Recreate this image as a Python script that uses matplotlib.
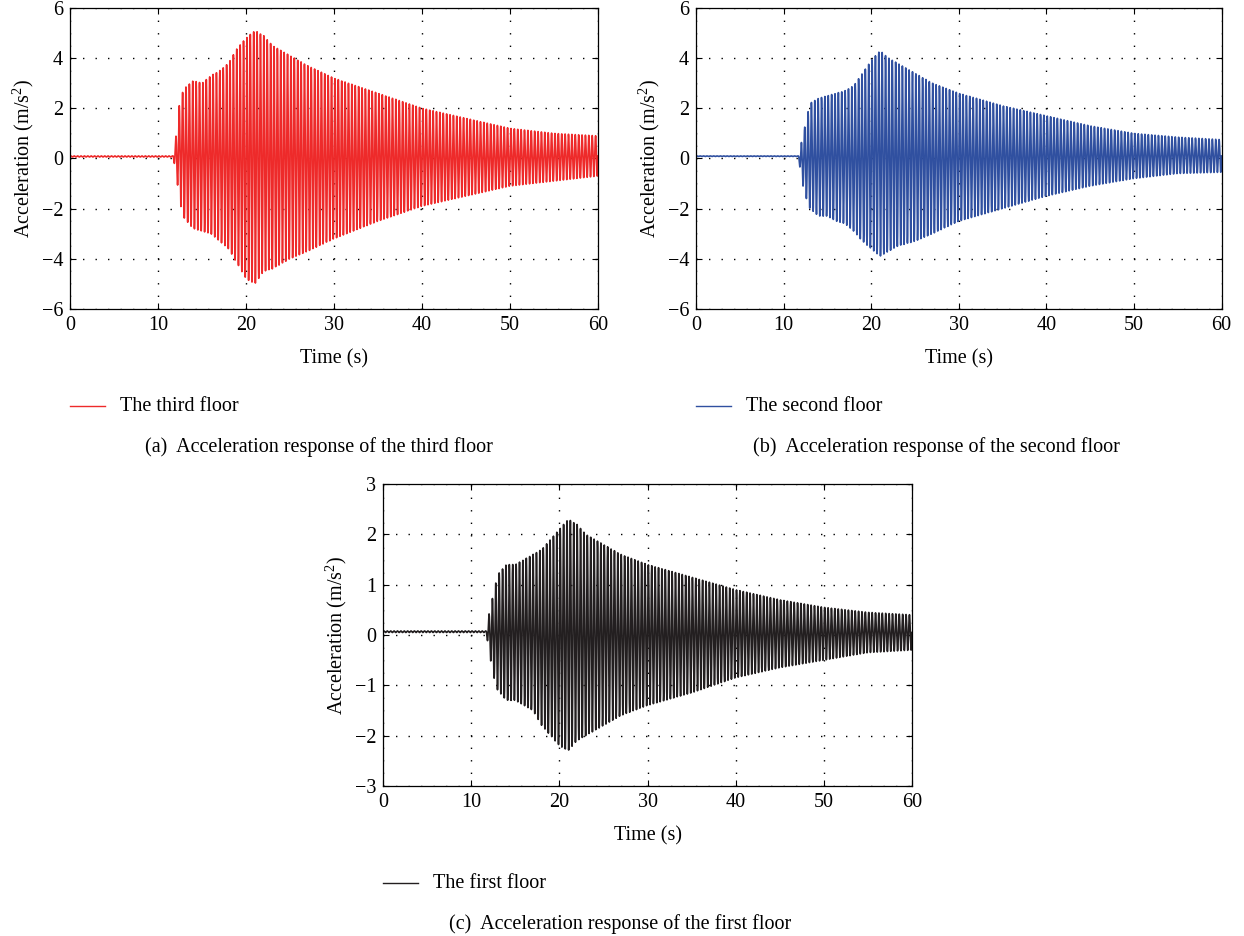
import numpy as np
import matplotlib.pyplot as plt
from matplotlib.lines import Line2D

plt.rcParams['font.family'] = ['Liberation Serif', 'DejaVu Serif']
plt.rcParams['font.size'] = 14.5
plt.rcParams['mathtext.fontset'] = 'custom'
plt.rcParams['mathtext.rm'] = 'Liberation Serif'

# envelope of the measured acceleration (m/s^2) read at key instants
t_knots = [0, 11.7, 12.0, 12.5, 13, 14, 15, 16, 17, 18, 19, 20, 21, 22, 23,
           25, 27, 30, 35, 40, 45, 50, 55, 60]

third_upper = [0.1, 0.1, 0.8, 2.4, 2.8, 3.1, 3.0, 3.3, 3.5, 3.8, 4.4, 4.8, 5.1,
               4.9, 4.5, 4.1, 3.7, 3.2, 2.6, 2.0, 1.6, 1.2, 1.0, 0.9]
third_lower = [0.06, 0.06, -0.5, -1.8, -2.4, -2.8, -2.9, -3.0, -3.3, -3.6, -4.2,
               -4.8, -5.0, -4.5, -4.4, -4.0, -3.7, -3.2, -2.5, -1.9, -1.5, -1.1,
               -0.9, -0.7]

second_upper = [0.1, 0.1, 0.6, 1.4, 2.2, 2.4, 2.5, 2.6, 2.7, 2.9, 3.4, 3.9, 4.3,
                4.0, 3.8, 3.4, 3.0, 2.6, 2.1, 1.7, 1.3, 1.0, 0.85, 0.75]
second_lower = [0.08, 0.08, -0.8, -1.5, -2.0, -2.3, -2.3, -2.5, -2.6, -2.9, -3.3,
                -3.6, -3.9, -3.7, -3.5, -3.3, -3.0, -2.5, -2.0, -1.5, -1.1, -0.8,
                -0.6, -0.55]

first_upper = [0.08, 0.08, 0.4, 0.8, 1.2, 1.4, 1.4, 1.5, 1.6, 1.7, 1.9, 2.1, 2.3,
               2.2, 2.0, 1.8, 1.6, 1.4, 1.15, 0.9, 0.7, 0.55, 0.45, 0.4]
first_lower = [0.05, 0.05, -0.3, -0.8, -1.1, -1.3, -1.3, -1.4, -1.5, -1.8, -2.0,
               -2.2, -2.3, -2.1, -2.0, -1.8, -1.6, -1.4, -1.15, -0.85, -0.65, -0.5,
               -0.35, -0.3]

freq = 2.6  # dominant frequency of the response (Hz)


def response(upper, lower):
    t = np.arange(0, 60.001, 0.01)
    up = np.interp(t, t_knots, upper)
    lo = np.interp(t, t_knots, lower)
    mid = (up + lo) / 2
    amp = (up - lo) / 2
    return t, mid + amp * np.sin(2 * np.pi * freq * t)


def panel(rect, upper, lower, color, ylim, yticks, legend_txt, caption, cap_x):
    ax = fig.add_axes(rect)
    t, a = response(upper, lower)
    ax.plot(t, a, color=color, lw=1.2)
    ax.set_xlim(0, 60)
    ax.set_ylim(*ylim)
    ax.set_xticks(range(0, 61, 10))
    ax.set_yticks(yticks)
    ax.set_yticklabels([str(v).replace('-', '\u2212') for v in yticks])
    ax.grid(True, color='black', linestyle=(0, (1, 8)), linewidth=1.0)
    ax.tick_params(direction='in', top=True, right=True, length=4, pad=5)
    for s in ax.spines.values():
        s.set_linewidth(0.9)
    ax.set_xlabel('Time (s)', labelpad=10)
    ax.set_ylabel('Acceleration (m/s$^2$)', labelpad=4)

    x0 = rect[0]
    y_leg = rect[1] - 0.104
    fig.add_artist(Line2D([x0, x0 + 0.028], [y_leg, y_leg], color=color, lw=1,
                          transform=fig.transFigure))
    fig.text(x0 + 0.04, y_leg, legend_txt, va='center', ha='left')
    fig.text(cap_x, y_leg - 0.043, caption, va='center', ha='center')
    return ax


fig = plt.figure(figsize=(12.44, 9.36), dpi=100)

panel([0.0563, 0.6699, 0.4245, 0.3216], third_upper, third_lower, '#ee2a2a',
      (-6, 6), [-6, -4, -2, 0, 2, 4, 6], 'The third floor',
      '(a)  Acceleration response of the third floor', 0.2564)
panel([0.5595, 0.6699, 0.4225, 0.3216], second_upper, second_lower, '#3050a0',
      (-6, 6), [-6, -4, -2, 0, 2, 4, 6], 'The second floor',
      '(b)  Acceleration response of the second floor', 0.7524)
panel([0.3079, 0.1603, 0.4252, 0.3226], first_upper, first_lower, '#231f20',
      (-3, 3), [-3, -2, -1, 0, 1, 2, 3], 'The first floor',
      '(c)  Acceleration response of the first floor', 0.4984)

fig.savefig('out.png', dpi=100)
